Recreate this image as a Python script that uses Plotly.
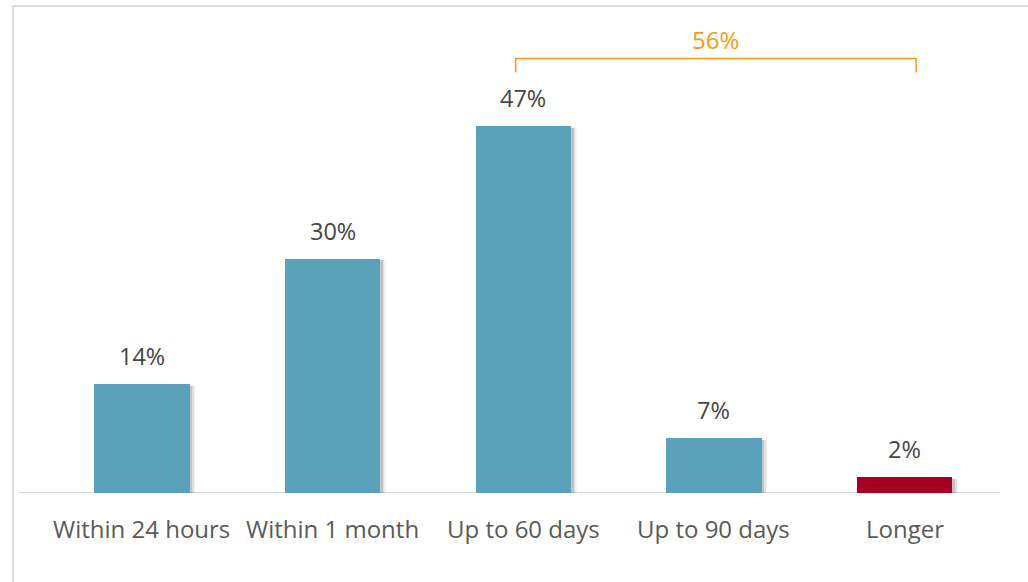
import plotly.graph_objects as go

categories = ["Within 24 hours", "Within 1 month", "Up to 60 days", "Up to 90 days", "Longer"]
values = [14, 30, 47, 7, 2]
bar_colors = ["#5AA2B9", "#5AA2B9", "#5AA2B9", "#5AA2B9", "#A50021"]
bracket_label = "56%"
bracket_from, bracket_to = 2, 4

W, H = 1028, 582
ML, MR, MT, MB = 18, 28, 24, 89
plot_w = W - ML - MR
plot_h = H - MT - MB
x_range = [-0.65, 4.5]
y_range = [0, 60]

xs = list(range(len(categories)))

fig = go.Figure()

# soft drop shadow behind each bar
for dx, alpha in [(0.03, 0.05), (0.022, 0.08), (0.014, 0.12)]:
    fig.add_trace(go.Bar(
        x=xs, y=[v + 0.15 for v in values], base=-0.4,
        width=0.5, offset=-0.25 + dx,
        marker=dict(color=f"rgba(0,0,0,{alpha})", line=dict(width=0)),
        hoverinfo="skip", showlegend=False,
    ))

fig.add_trace(go.Bar(
    x=xs, y=values, width=0.5, offset=-0.25,
    marker=dict(color=bar_colors, line=dict(width=0)),
    showlegend=False,
))

# value labels above bars
for x, v in zip(xs, values):
    fig.add_annotation(x=x, y=v, text=f"{v}%", showarrow=False,
                       yanchor="middle", yshift=28,
                       font=dict(family="Open Sans", size=23.5, color="#454545"))

# category labels under the baseline
for x, c in zip(xs, categories):
    fig.add_annotation(x=x, y=0, text=c, showarrow=False,
                       yanchor="middle", yshift=-35,
                       font=dict(family="Open Sans", size=24, color="#5A5A5A"))

# baseline
fig.add_shape(type="line", xref="x", yref="y", x0=x_range[0], x1=x_range[1],
              y0=0, y1=0, line=dict(color="#D9D9D9", width=2), layer="below")

# bracket over the last three categories
bx0, bx1 = bracket_from - 0.04, bracket_to + 0.06
fig.add_shape(type="path", xref="x", yref="y",
              path=f"M {bx0},53.8 L {bx0},55.6 L {bx1},55.6 L {bx1},53.8",
              line=dict(color="#F39C12", width=1.5))
fig.add_annotation(x=(bx0 + bx1) / 2, y=55.6, text=bracket_label, showarrow=False,
                   yanchor="middle", yshift=19,
                   font=dict(family="Open Sans", size=24, color="#F39C12"))

# outer frame
px = lambda p: (p - ML) / plot_w
py = lambda p: 1 - (p - MT) / plot_h
fig.add_shape(type="path", xref="paper", yref="paper",
              path=f"M {px(13)},{py(700)} L {px(13)},{py(6)} L {px(1100)},{py(6)}",
              line=dict(color="#DCDCDC", width=2))

fig.update_layout(
    width=W, height=H,
    margin=dict(l=ML, r=MR, t=MT, b=MB),
    paper_bgcolor="white", plot_bgcolor="white",
    barmode="overlay", bargap=0,
    xaxis=dict(range=x_range, visible=False, fixedrange=True),
    yaxis=dict(range=y_range, visible=False, fixedrange=True),
    font=dict(family="Open Sans"),
)

fig.write_html("out.html")
